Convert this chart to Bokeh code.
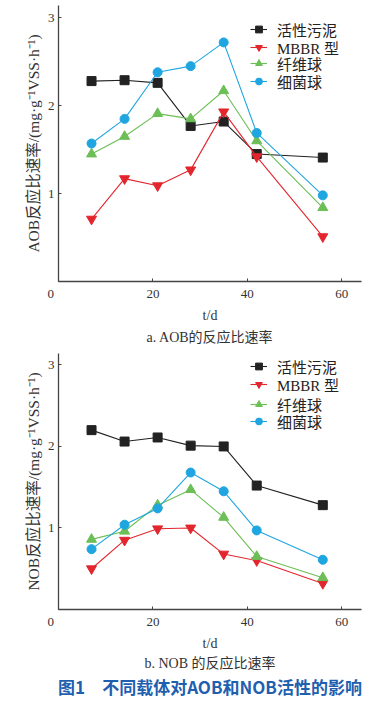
from bokeh.plotting import figure
from bokeh.models import Range1d, FixedTicker, Legend, LegendItem, Title
from bokeh.layouts import column
from bokeh.embed import file_html
from bokeh.resources import INLINE

days = [7, 14, 21, 28, 35, 42, 56]
series_names = ["活性污泥", "MBBR 型", "纤维球", "细菌球"]

aob_sludge = [2.28, 2.29, 2.26, 1.77, 1.82, 1.45, 1.41]
aob_mbbr = [0.71, 1.17, 1.09, 1.27, 1.93, 1.42, 0.51]
aob_fiber = [1.45, 1.65, 1.91, 1.85, 2.17, 1.60, 0.84]
aob_bact = [1.57, 1.85, 2.38, 2.45, 2.72, 1.69, 0.98]

nob_sludge = [2.20, 2.06, 2.11, 2.01, 2.00, 1.52, 1.28]
nob_mbbr = [0.50, 0.85, 0.99, 1.00, 0.68, 0.60, 0.32]
nob_fiber = [0.86, 0.96, 1.28, 1.47, 1.13, 0.65, 0.39]
nob_bact = [0.74, 1.04, 1.24, 1.68, 1.45, 0.97, 0.61]

x_ticks = [0, 20, 40, 60]
y_ticks = [0, 1, 2, 3]

SERIF = "Liberation Serif, Noto Sans CJK SC"
AXIS_COL = "#444444"
colors = ["#222222", "#e3262d", "#6cbf56", "#1fa6e0"]
markers = ["square", "inverted_triangle", "triangle", "circle"]
sizes = [9, 10, 10, 9]


def make_plot(ys, ylabel, caption, height, top_border, bottom_border, y_end, leg_ys,
              td_standoff, cap_standoff, extra_title=None, extra_standoff=0):
    p = figure(width=380, height=height, output_backend="svg", toolbar_location=None,
               x_range=Range1d(0, 64.2), y_range=Range1d(0, y_end),
               min_border_left=58, min_border_right=19, min_border_top=top_border,
               min_border_bottom=bottom_border)
    p.outline_line_color = None
    p.grid.visible = False
    p.background_fill_color = "white"
    p.border_fill_color = "white"

    for ax in (p.xaxis[0], p.yaxis[0]):
        ax.axis_line_color = AXIS_COL
        ax.axis_line_width = 1.3
        ax.major_tick_in = 3
        ax.major_tick_out = 0
        ax.major_tick_line_color = AXIS_COL
        ax.minor_tick_line_color = None
        ax.major_label_text_font = SERIF
        ax.major_label_text_font_size = "13px"
        ax.major_label_text_color = "#333333"
        ax.axis_label_text_font = SERIF
        ax.axis_label_text_font_style = "normal"
        ax.axis_label_text_color = "#333333"

    p.xaxis.ticker = FixedTicker(ticks=x_ticks)
    p.yaxis.ticker = FixedTicker(ticks=y_ticks)
    p.xaxis.major_label_overrides = {0: "0\u2007\u2007\u2009"}
    p.yaxis.major_label_overrides = {0: ""}
    p.xaxis.major_label_standoff = 4
    p.yaxis.major_label_standoff = 4
    p.yaxis.axis_label = ylabel
    p.yaxis.axis_label_text_font_size = "15.5px"
    p.yaxis.axis_label_standoff = 3

    for name, y, c, m, s, ly in zip(series_names, ys, colors, markers, sizes, leg_ys):
        r1 = p.line(days, y, line_color=c, line_width=1.1)
        r2 = p.scatter(days, y, marker=m, size=s, fill_color=c, line_color=c)
        leg = Legend(items=[LegendItem(label=name, renderers=[r1, r2])], location=(192, ly),
                     background_fill_alpha=0, border_line_color=None,
                     glyph_width=17, glyph_height=22, label_height=22, spacing=0,
                     padding=0, margin=0, label_standoff=10,
                     label_text_font=SERIF, label_text_font_size="15px",
                     label_text_color="#222222")
        p.add_layout(leg, "center")

    # x-axis title "t/d" and the sub-caption, stacked below the axis
    p.add_layout(Title(text="t/d", align="center", text_font=SERIF, text_font_size="14px",
                       text_font_style="normal", text_color="#333333", standoff=td_standoff,
                       offset=-2), "below")
    p.add_layout(Title(text=caption, align="center", text_font=SERIF, text_font_size="14px",
                       text_font_style="normal", text_color="#333333",
                       standoff=cap_standoff), "below")
    if extra_title is not None:
        p.add_layout(Title(text=extra_title, align="center", text_font="Noto Sans CJK SC",
                           text_font_size="17px", text_font_style="bold", text_color="#1f5fb0",
                           standoff=extra_standoff), "below")
    return p


p1 = make_plot([aob_sludge, aob_mbbr, aob_fiber, aob_bact],
               "AOB反应比速率/(mg·g⁻¹VSS·h⁻¹)", "a. AOB的反应比速率",
               height=352, top_border=5, bottom_border=71, y_end=3.14,
               leg_ys=[241, 223, 207, 189], td_standoff=4, cap_standoff=7)
p2 = make_plot([nob_sludge, nob_mbbr, nob_fiber, nob_bact],
               "NOB反应比速率/(mg·g⁻¹VSS·h⁻¹)", "b. NOB 的反应比速率",
               height=349, top_border=1, bottom_border=92, y_end=3.14,
               leg_ys=[232, 214, 194, 177], td_standoff=5, cap_standoff=0,
               extra_title="图1　不同载体对AOB和NOB活性的影响", extra_standoff=2)

layout = column(p1, p2, spacing=0)
open("out.html", "w").write(file_html(layout, INLINE))
